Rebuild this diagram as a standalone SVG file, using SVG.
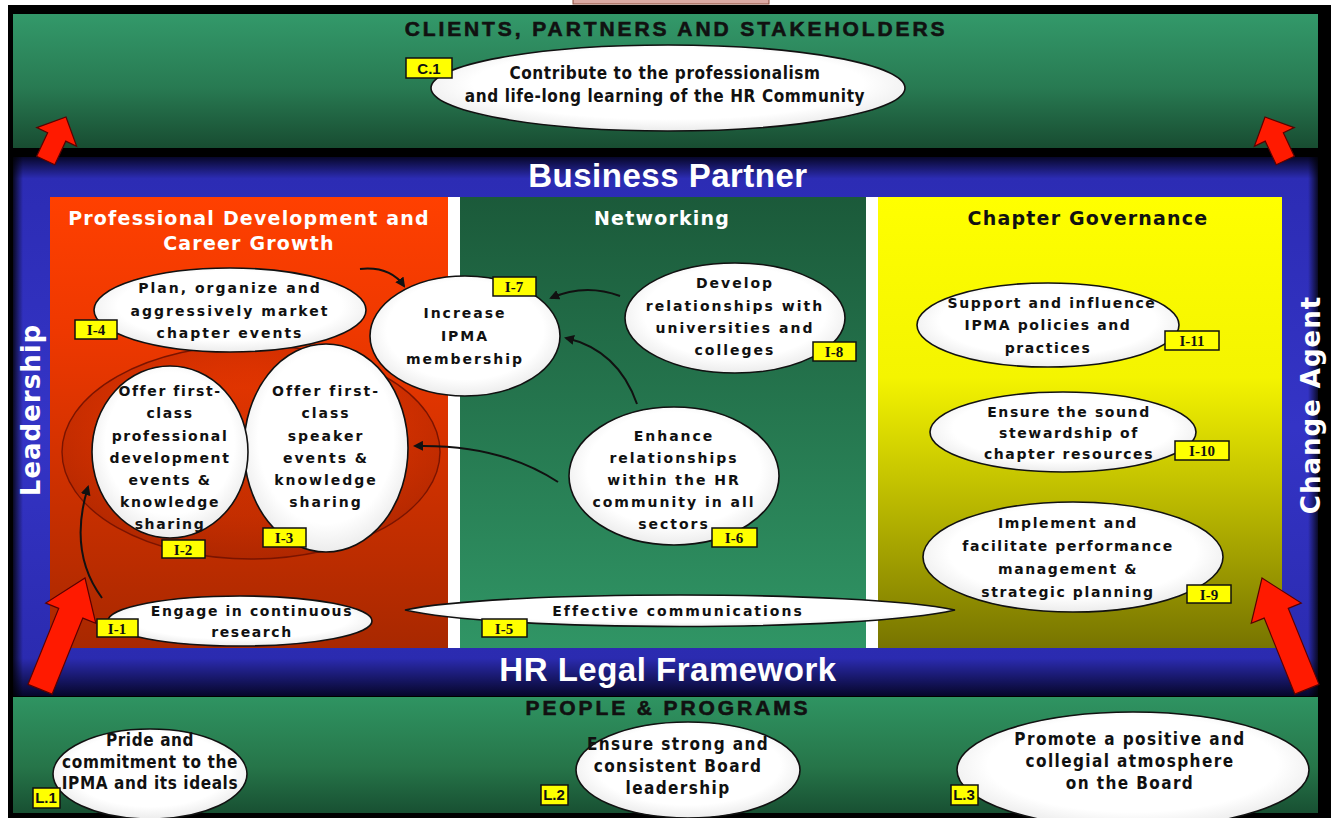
<svg xmlns="http://www.w3.org/2000/svg" width="1331" height="818" viewBox="0 0 1331 818">
  <defs>
    <linearGradient id="gTop" x1="0" y1="0" x2="0" y2="1">
      <stop offset="0" stop-color="#33996a"/>
      <stop offset="0.55" stop-color="#287a52"/>
      <stop offset="1" stop-color="#184c31"/>
    </linearGradient>
    <linearGradient id="gBot" x1="0" y1="0" x2="0" y2="1">
      <stop offset="0" stop-color="#2f9462"/>
      <stop offset="0.6" stop-color="#267549"/>
      <stop offset="1" stop-color="#185032"/>
    </linearGradient>
    <linearGradient id="gBlue" x1="0" y1="0" x2="0" y2="1">
      <stop offset="0" stop-color="#07072a"/>
      <stop offset="0.04" stop-color="#2c2cb4"/>
      <stop offset="0.5" stop-color="#3434c6"/>
      <stop offset="0.93" stop-color="#2b2bb0"/>
      <stop offset="1" stop-color="#06062a"/>
    </linearGradient>
    <linearGradient id="gEdgeL" x1="0" y1="0" x2="1" y2="0">
      <stop offset="0" stop-color="#000" stop-opacity="0.8"/>
      <stop offset="1" stop-color="#000" stop-opacity="0"/>
    </linearGradient>
    <linearGradient id="gEdgeR" x1="1" y1="0" x2="0" y2="0">
      <stop offset="0" stop-color="#000" stop-opacity="0.8"/>
      <stop offset="1" stop-color="#000" stop-opacity="0"/>
    </linearGradient>
    <linearGradient id="gRed" x1="0" y1="0" x2="0" y2="1">
      <stop offset="0" stop-color="#ff4000"/>
      <stop offset="0.3" stop-color="#ee3800"/>
      <stop offset="1" stop-color="#a82800"/>
    </linearGradient>
    <linearGradient id="gGreen" x1="0" y1="0" x2="0" y2="1">
      <stop offset="0" stop-color="#1b5a3a"/>
      <stop offset="1" stop-color="#309565"/>
    </linearGradient>
    <linearGradient id="gYellow" x1="0" y1="0" x2="0" y2="1">
      <stop offset="0" stop-color="#ffff00"/>
      <stop offset="0.4" stop-color="#f4f400"/>
      <stop offset="1" stop-color="#777400"/>
    </linearGradient>
    <radialGradient id="gEll" cx="0.5" cy="0.45" r="0.55">
      <stop offset="0.75" stop-color="#ffffff"/>
      <stop offset="1" stop-color="#ececec"/>
    </radialGradient>
    <radialGradient id="gRing" cx="0.5" cy="0.5" r="0.5">
      <stop offset="0.6" stop-color="#9a1a00" stop-opacity="0.03"/>
      <stop offset="1" stop-color="#8a1800" stop-opacity="0.25"/>
    </radialGradient>
    <marker id="tip" viewBox="0 0 10 10" refX="8" refY="5" markerWidth="5" markerHeight="5" orient="auto">
      <path d="M0,0 L10,5 L0,10 Z" fill="#111"/>
    </marker>
    <polygon id="bigArrow" points="0,0 27,38 13,38 13,120 -13,120 -13,38 -27,38"/>
    <polygon id="smallArrow" points="0,0 22,22 10,22 10,48 -10,48 -10,22 -22,22"/>
  </defs>
  <style>
    .ell { fill: url(#gEll); stroke: #111; stroke-width: 1.6; }
    .wt { font-family: "DejaVu Sans", "Liberation Sans", sans-serif; font-weight: bold; font-size: 14px; letter-spacing: 2px; text-anchor: middle; fill: #111; }
    .wt2 { letter-spacing: 1.6px; }
    .ct { font-family: "Liberation Sans Narrow", "DejaVu Sans Condensed", "Liberation Sans", sans-serif; font-weight: bold; font-size: 17px; letter-spacing: 0.6px; text-anchor: middle; fill: #111; }
    .ct2 { letter-spacing: 1.4px; }
    .hd { font-family: "DejaVu Sans", "Liberation Sans", sans-serif; font-weight: bold; font-size: 19px; letter-spacing: 1.2px; text-anchor: middle; }
    .band { font-family: "Liberation Sans", Arial, sans-serif; font-weight: bold; font-size: 33px; letter-spacing: 0.5px; fill: #fff; text-anchor: middle; }
    .side { font-family: "DejaVu Sans", "Liberation Sans", sans-serif; font-weight: bold; font-size: 26px; letter-spacing: 1px; fill: #fff; text-anchor: middle; }
    .sec { font-family: "Liberation Sans", Arial, sans-serif; font-weight: bold; font-size: 21px; letter-spacing: 2.9px; fill: #111; stroke: #111; stroke-width: 0.6; text-anchor: middle; }
    .tag rect { fill: #ffff00; stroke: #111; stroke-width: 1.5; }
    .tag text { font-family: "Liberation Serif", "Times New Roman", serif; font-weight: bold; font-size: 15px; fill: #111; text-anchor: middle; }
    .tag2 text { font-family: "Liberation Sans Narrow", "Liberation Sans", sans-serif; font-weight: bold; font-size: 15px; fill: #111; text-anchor: middle; }
    .tag2 rect { fill: #ffff00; stroke: #111; stroke-width: 1.5; }
    .conn { fill: none; stroke: #111; stroke-width: 2; marker-end: url(#tip); }
    .redArrow { fill: #ff1a00; stroke: #5a0000; stroke-width: 1.2; }
  </style>

  <!-- page, tab and frame -->
  <rect x="0" y="0" width="1331" height="818" fill="#ffffff"/>
  <rect x="573" y="-2" width="196" height="6" fill="#dcaaa4" stroke="#8a4a3a" stroke-width="1"/>
  <rect x="8" y="5" width="1323" height="813" fill="#000"/>

  <!-- outer bands -->
  <g id="clients-band">
    <rect x="13" y="14" width="1305" height="134" fill="url(#gTop)"/>
    <text class="sec" x="676" y="36">CLIENTS, PARTNERS AND STAKEHOLDERS</text>
  </g>
  <g id="frame-band">
    <rect x="13" y="157" width="1305" height="539" fill="url(#gBlue)"/>
    <rect x="13" y="157" width="10" height="539" fill="url(#gEdgeL)"/>
    <rect x="1308" y="157" width="10" height="539" fill="url(#gEdgeR)"/>
    <text class="band" x="668" y="187">Business Partner</text>
    <text class="band" x="668" y="681" font-size="34">HR Legal Framework</text>
    <text class="side" transform="translate(40,410) rotate(-90)">Leadership</text>
    <text class="side" transform="translate(1320,405) rotate(-90)">Change Agent</text>
  </g>
  <g id="people-band">
    <rect x="13" y="697" width="1305" height="116" fill="url(#gBot)"/>
    <text class="sec" x="668" y="715" letter-spacing="2.2">PEOPLE &amp; PROGRAMS</text>
  </g>

  <!-- three inner panels -->
  <g id="panel-pd">
    <rect x="448" y="197" width="12" height="451" fill="#fff"/>
    <rect x="50" y="197" width="398" height="451" fill="url(#gRed)"/>
    <text class="hd" x="249" y="225" fill="#fff">Professional Development and</text>
    <text class="hd" x="249" y="250" fill="#fff">Career Growth</text>
    <ellipse cx="251" cy="452" rx="189" ry="107" fill="url(#gRing)" stroke="#7a1400" stroke-width="1.4"/>
  </g>
  <g id="panel-net">
    <rect x="866" y="197" width="12" height="451" fill="#fff"/>
    <rect x="460" y="197" width="406" height="451" fill="url(#gGreen)"/>
    <text class="hd" x="662" y="225" fill="#fff">Networking</text>
  </g>
  <g id="panel-gov">
    <rect x="878" y="197" width="404" height="451" fill="url(#gYellow)"/>
    <text class="hd" x="1088" y="225" fill="#111">Chapter Governance</text>
  </g>

  <!-- red block arrows -->
  <g id="block-arrows">
    <use href="#smallArrow" class="redArrow" transform="translate(66,117) rotate(25)"/>
    <use href="#smallArrow" class="redArrow" transform="translate(1265,117) rotate(-25)"/>
    <use href="#bigArrow" class="redArrow" transform="translate(85,578) rotate(22)"/>
    <use href="#bigArrow" class="redArrow" transform="translate(1262,578) rotate(-22)"/>
  </g>

  <!-- connectors -->
  <g id="connectors">
    <path class="conn" d="M 360 269 Q 390 266 404 286"/>
    <path class="conn" d="M 620 296 Q 585 283 551 298"/>
    <path class="conn" d="M 637 404 Q 618 350 566 338"/>
    <path class="conn" d="M 558 482 Q 500 444 415 446"/>
    <path class="conn" d="M 102 598 Q 68 552 88 487"/>
  </g>

  <!-- goal nodes -->
  <g id="C1">
    <ellipse class="ell" cx="668" cy="88" rx="237" ry="43"/>
    <text class="ct" x="665" y="79">Contribute to the professionalism</text>
    <text class="ct" x="665" y="102">and life-long learning of the HR Community</text>
    <g class="tag2"><rect x="406" y="58" width="46" height="20"/><text x="429" y="74">C.1</text></g>
  </g>

  <g id="I4">
    <ellipse class="ell" cx="230" cy="310" rx="136" ry="42"/>
    <text class="wt" x="230" y="293">Plan, organize and</text>
    <text class="wt" x="230" y="316">aggressively market</text>
    <text class="wt" x="230" y="338">chapter events</text>
    <g class="tag"><rect x="75" y="320" width="42" height="19"/><text x="96" y="335">I-4</text></g>
  </g>

  <g id="I3">
    <ellipse class="ell" cx="326" cy="448" rx="82" ry="104"/>
    <text class="wt" x="326" y="396">Offer first-</text>
    <text class="wt" x="326" y="418">class</text>
    <text class="wt" x="326" y="441">speaker</text>
    <text class="wt" x="326" y="463">events &amp;</text>
    <text class="wt" x="326" y="485">knowledge</text>
    <text class="wt" x="326" y="507">sharing</text>
    <g class="tag"><rect x="263" y="528" width="43" height="19"/><text x="284" y="543">I-3</text></g>
  </g>

  <g id="I2">
    <ellipse class="ell" cx="170" cy="452" rx="78" ry="86"/>
    <text class="wt wt2" x="170" y="396">Offer first-</text>
    <text class="wt wt2" x="170" y="418">class</text>
    <text class="wt wt2" x="170" y="441">professional</text>
    <text class="wt wt2" x="170" y="463">development</text>
    <text class="wt wt2" x="170" y="485">events &amp;</text>
    <text class="wt wt2" x="170" y="507">knowledge</text>
    <text class="wt wt2" x="170" y="529">sharing</text>
    <g class="tag"><rect x="162" y="540" width="43" height="18"/><text x="183" y="555">I-2</text></g>
  </g>

  <g id="I7">
    <ellipse class="ell" cx="465" cy="336" rx="95" ry="60"/>
    <text class="wt" x="465" y="318">Increase</text>
    <text class="wt" x="465" y="341">IPMA</text>
    <text class="wt" x="465" y="364">membership</text>
    <g class="tag"><rect x="493" y="277" width="43" height="19"/><text x="514" y="292">I-7</text></g>
  </g>

  <g id="I8">
    <ellipse class="ell" cx="735" cy="318" rx="110" ry="55"/>
    <text class="wt" x="735" y="288">Develop</text>
    <text class="wt" x="735" y="311">relationships with</text>
    <text class="wt" x="735" y="333">universities and</text>
    <text class="wt" x="735" y="355">colleges</text>
    <g class="tag"><rect x="813" y="342" width="43" height="19"/><text x="834" y="357">I-8</text></g>
  </g>

  <g id="I6">
    <ellipse class="ell" cx="674" cy="476" rx="105" ry="69"/>
    <text class="wt" x="674" y="441">Enhance</text>
    <text class="wt" x="674" y="463">relationships</text>
    <text class="wt" x="674" y="485">within the HR</text>
    <text class="wt" x="674" y="507">community in all</text>
    <text class="wt" x="674" y="529">sectors</text>
    <g class="tag"><rect x="712" y="528" width="45" height="19"/><text x="734" y="543">I-6</text></g>
  </g>

  <g id="I11">
    <ellipse class="ell" cx="1048" cy="325" rx="131" ry="42"/>
    <text class="wt wt2" x="1052" y="308">Support and influence</text>
    <text class="wt wt2" x="1048" y="330">IPMA policies and</text>
    <text class="wt wt2" x="1048" y="353">practices</text>
    <g class="tag"><rect x="1165" y="331" width="54" height="19"/><text x="1192" y="346">I-11</text></g>
  </g>

  <g id="I10">
    <ellipse class="ell" cx="1063" cy="432" rx="133" ry="40"/>
    <text class="wt wt2" x="1069" y="417">Ensure the sound</text>
    <text class="wt wt2" x="1069" y="438">stewardship of</text>
    <text class="wt wt2" x="1069" y="459">chapter resources</text>
    <g class="tag"><rect x="1175" y="441" width="54" height="19"/><text x="1202" y="456">I-10</text></g>
  </g>

  <g id="I9">
    <ellipse class="ell" cx="1073" cy="557" rx="150" ry="55"/>
    <text class="wt wt2" x="1068" y="528">Implement and</text>
    <text class="wt wt2" x="1068" y="551">facilitate performance</text>
    <text class="wt wt2" x="1068" y="574">management &amp;</text>
    <text class="wt wt2" x="1068" y="597">strategic planning</text>
    <g class="tag"><rect x="1187" y="585" width="44" height="18"/><text x="1209" y="600">I-9</text></g>
  </g>

  <g id="I5">
    <path class="ell" d="M 405 610 C 500 590, 860 590, 955 610 C 860 632, 500 632, 405 610 Z"/>
    <text class="wt" x="678" y="616">Effective communications</text>
    <g class="tag"><rect x="482" y="619" width="45" height="18"/><text x="504" y="634">I-5</text></g>
  </g>

  <g id="I1">
    <ellipse class="ell" cx="240" cy="621" rx="132" ry="25"/>
    <text class="wt wt2" x="252" y="616">Engage in continuous</text>
    <text class="wt wt2" x="252" y="637">research</text>
    <g class="tag"><rect x="97" y="619" width="41" height="18"/><text x="117" y="634">I-1</text></g>
  </g>

  <g id="L1">
    <ellipse class="ell" cx="150" cy="774" rx="97" ry="45"/>
    <text class="ct" x="150" y="746">Pride and</text>
    <text class="ct" x="150" y="768">commitment to the</text>
    <text class="ct" x="150" y="789">IPMA and its ideals</text>
    <g class="tag2"><rect x="33" y="788" width="27" height="20"/><text x="46" y="803">L.1</text></g>
  </g>

  <g id="L2">
    <ellipse class="ell" cx="688" cy="770" rx="112" ry="48"/>
    <text class="ct ct2" x="678" y="750">Ensure strong and</text>
    <text class="ct ct2" x="678" y="772">consistent Board</text>
    <text class="ct ct2" x="678" y="794">leadership</text>
    <g class="tag2"><rect x="541" y="785" width="27" height="20"/><text x="554" y="800">L.2</text></g>
  </g>

  <g id="L3">
    <ellipse class="ell" cx="1133" cy="770" rx="176" ry="58"/>
    <text class="ct ct2" x="1130" y="745">Promote a positive and</text>
    <text class="ct ct2" x="1130" y="767">collegial atmosphere</text>
    <text class="ct ct2" x="1130" y="789">on the Board</text>
    <g class="tag2"><rect x="951" y="785" width="27" height="20"/><text x="964" y="800">L.3</text></g>
  </g>
</svg>
